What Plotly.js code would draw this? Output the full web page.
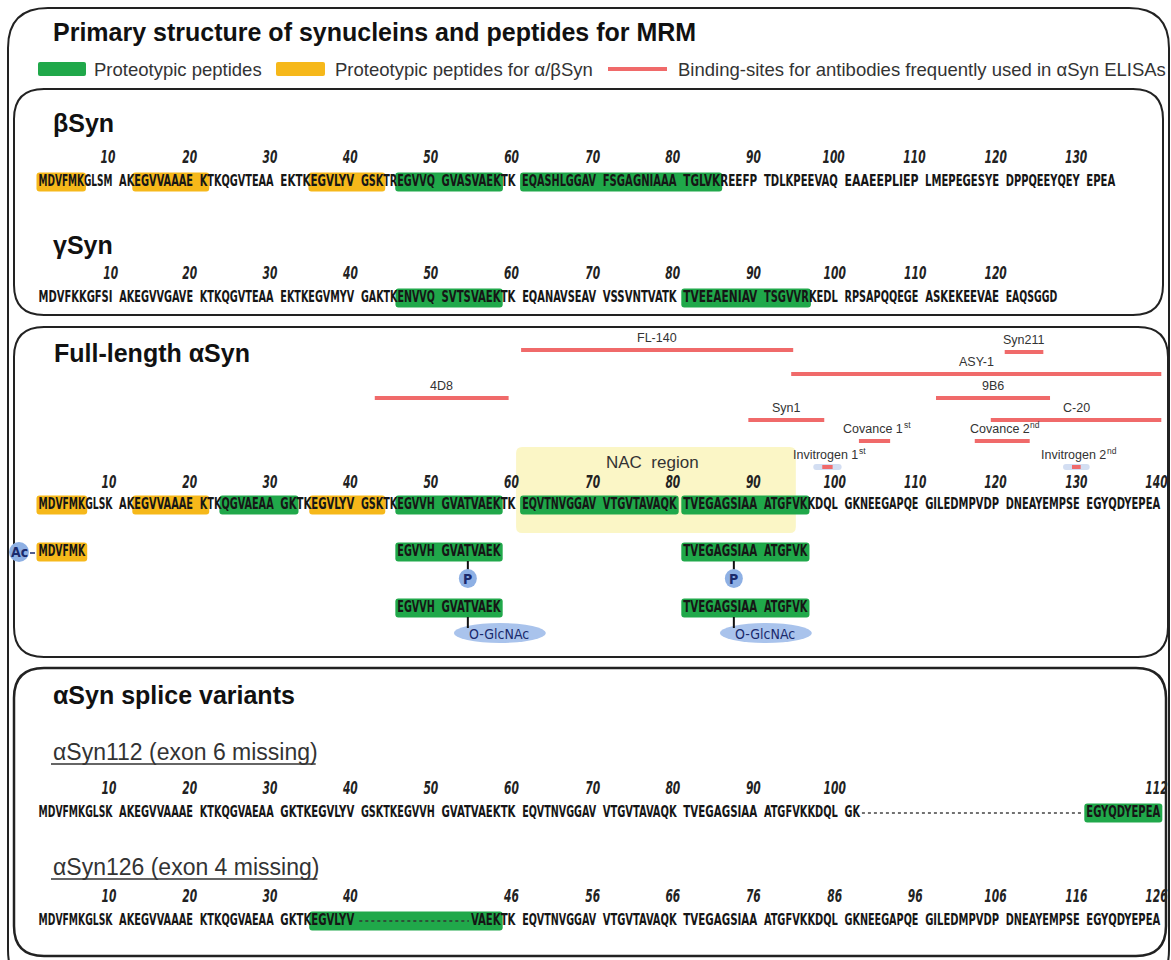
<!DOCTYPE html>
<html><head><meta charset="utf-8">
<script src="https://cdn.plot.ly/plotly-3.0.1.min.js"></script>
<style>html,body{margin:0;padding:0;background:#fff;}#chart{width:1171px;height:960px;}</style>
</head><body><div id="chart"></div>
<script>
// ================= DATA =================
const seqBeta  = "MDVFMKGLSMAKEGVVAAAEKTKQGVTEAAEKTKEGVLYVGSKTREGVVQGVASVAEKTKEQASHLGGAVFSGAGNIAAATGLVKREEFPTDLKPEEVAQEAAEEPLIEPLMEPEGESYEDPPQEEYQEYEPEA";
const seqGamma = "MDVFKKGFSIAKEGVVGAVEKTKQGVTEAAEKTKEGVMYVGAKTKENVVQSVTSVAEKTKEQANAVSEAVVSSVNTVATKTVEEAENIAVTSGVVRKEDLRPSAPQQEGEASKEKEEVAEEAQSGGD";
const seqAlpha = "MDVFMKGLSKAKEGVVAAAEKTKQGVAEAAGKTKEGVLYVGSKTKEGVVHGVATVAEKTKEQVTNVGGAVVTGVTAVAQKTVEGAGSIAAATGFVKKDQLGKNEEGAPQEGILEDMPVDPDNEAYEMPSEEGYQDYEPEA";

// peptide ranges (residue numbers, inclusive)
const betaOrange  = [[1,6],[13,21],[35,43]];
const betaGreen   = [[46,58],[61,85]];
const gammaGreen  = [[46,58],[81,96]];
const alphaOrange = [[1,6],[13,21],[35,43]];
const alphaGreen  = [[24,32],[46,58],[61,80],[81,96]];
const nacRegion   = [61,95];

// modified peptides
const acetylPeptide  = [1,6];
const modPeptides    = [[46,58],[81,96]];
const phosphoSites   = [54,87];
const glcnacSites    = [54,87];

// splice variants: deleted residue ranges
const exon6Deleted = [103,130];   // alphaSyn112
const exon4Deleted = [41,54];     // alphaSyn126
const a112Green = [[131,140]];
const a126Green = [[35,58]];

// antibody binding sites
const abNames = ["FL-140","Syn211","ASY-1","4D8","9B6","Syn1","C-20","Covance 1","Covance 2","Invitrogen 1","Invitrogen 2"];
const abOrd   = ["","","","","","","","st","nd","st","nd"];
const abStart = [61,121,95,43,113,90,120,103,118,99,130];
const abEnd   = [94,125,140,59,126,98,140,106,123,99,130];

// ================= LAYOUT HELPERS =================
const abLaneY = [350,352,374,398,398,420,420,441,441,467,467];
const X0 = 38, CW = 7.5, GAP = 5.6;
const slotL = i => X0 + (i-1)*CW + Math.floor((i-1)/10)*GAP;
const slotR = i => X0 + i*CW + Math.floor((i-1)/10)*GAP;

const ARIAL = "Liberation Sans, Arial, sans-serif";
const NARROW = "'Liberation Sans Narrow', 'DejaVu Sans Condensed', 'Arial Narrow', 'Roboto Condensed', 'Liberation Sans', Arial, sans-serif";
const GREEN = "#20a84a", ORANGE = "#f6b81a", RED = "#f06a6a", BLUE = "#8eb0e4", NAVY = "#1a2a6c";
const SEQ_SIZE = 16.5;
const SEQFONT = {family:NARROW, size:SEQ_SIZE, color:'#161616', weight:'bold'};

// text measurement, so that each block of ten residues fills its slot (condensed type)
const ctx = document.createElement('canvas').getContext('2d');
function measure(s, font){ ctx.font = font; return ctx.measureText(s).width; }
const mw = s => measure(s, `bold ${SEQ_SIZE}px ${NARROW}`);

function layoutSeq(seq){
  const L=[];
  for(let b=0;b*10<seq.length;b++){
    const s=seq.slice(b*10,b*10+10), n=s.length;
    const k=Math.min(1.1,(n*CW-1)/mw(s));
    const bc=(slotL(b*10+1)+slotR(b*10+n))/2;
    const x0=bc-k*mw(s)/2;
    for(let j=0;j<n;j++){ L[b*10+j+1]={l:x0+k*mw(s.slice(0,j)), r:x0+k*mw(s.slice(0,j+1)), k:k}; }
  }
  return L;
}
const LB=layoutSeq(seqBeta), LG=layoutSeq(seqGamma), LA=layoutSeq(seqAlpha);
const mid = (L,i)=>(L[i].l+L[i].r)/2;

const traces = [], shapes = [], ann = [], traceScale = [];

function rr(x0,y0,x1,y1,r){
  return `M${x0+r},${y0} L${x1-r},${y0} Q${x1},${y0} ${x1},${y0+r} L${x1},${y1-r} Q${x1},${y1} ${x1-r},${y1} L${x0+r},${y1} Q${x0},${y1} ${x0},${y1-r} L${x0},${y0+r} Q${x0},${y0} ${x0+r},${y0} Z`;
}
function panel(x0,y0,x1,y1,r,w){
  shapes.push({type:'path', path:rr(x0,y0,x1,y1,r), line:{color:'#222', width:w||2}, fillcolor:'rgba(0,0,0,0)', layer:'below'});
}
function hilite(L,ranges,y,color){
  ranges.forEach(([a,b])=>{
    shapes.push({type:'path', path:rr(L[a].l-2,y-9.5,L[b].r+2,y+9.5,3), fillcolor:color, line:{width:0}, layer:'below'});
  });
}
// sequence text: residues from..to grouped by block of ten, skipping a deleted range
function seqText(seq, L, from, to, y, deleted){
  const xs=[], ts=[], ks=[];
  let cur=null;
  const flush=()=>{ if(cur){ xs.push((L[cur.start].l+L[cur.end].r)/2); ts.push(cur.s); ks.push(L[cur.start].k); } };
  for(let i=from;i<=to;i++){
    if(deleted && i>=deleted[0] && i<=deleted[1]) continue;
    const b=Math.floor((i-1)/10);
    if(!cur || cur.b!==b || cur.end!==i-1){ flush(); cur={b:b,start:i,end:i,s:seq[i-1]}; }
    else { cur.end=i; cur.s+=seq[i-1]; }
  }
  flush();
  traces.push({type:'scatter', mode:'text', x:xs, y:xs.map(()=>y), text:ts, textposition:'middle center',
    textfont:SEQFONT, hoverinfo:'skip', showlegend:false, cliponaxis:false});
  traceScale.push(ks);
}
function ticks(L, len, deleted, y){
  const pos=[], lab=[];
  for(let p=10;p<=len;p+=10){
    if(deleted && p>=deleted[0] && p<=deleted[1]) continue;
    const shift = deleted && p>deleted[1] ? (deleted[1]-deleted[0]+1) : 0;
    pos.push(p); lab.push(String(p-shift));
  }
  traces.push({type:'scatter', mode:'text', x:pos.map(p=>mid(L,p)), y:pos.map(()=>y),
    text:lab, textposition:'middle center',
    textfont:{family:NARROW, size:18, color:'#222', style:'italic', weight:'bold'}, hoverinfo:'skip', showlegend:false, cliponaxis:false});
  traceScale.push(pos.map(()=>0.66));
}
function txt(x,y,s,font,opts){
  ann.push(Object.assign({x:x,y:y,xref:'x',yref:'y',text:s,showarrow:false,xanchor:'left',yanchor:'middle',
    font:font}, opts||{}));
}
const HEAD = {family:ARIAL,size:25,color:'#111',weight:'bold'};
const SUB  = {family:ARIAL,size:23,color:'#333'};
function underlined(x,y,s){
  txt(x,y,s,SUB);
  const w = measure(s, `${SUB.size}px ${ARIAL}`);
  shapes.push({type:'line', x0:x, x1:x+w, y0:y+12, y1:y+12, line:{color:'#333',width:1.3}});
}

// ================= FRAMES =================
panel(8,8,1169,990,40,2);
panel(14,89,1163,315,30,2);
panel(14,327,1168,657,30,2);
panel(14,668,1166,956,30,2.5);

// title + legend
txt(51,32,"Primary structure of synucleins and peptides for MRM",HEAD);
const LEG = {family:ARIAL,size:18.5,color:'#333'};
shapes.push({type:'path', path:rr(38,62,86,76,2), fillcolor:GREEN, line:{width:0}});
txt(92,69,"Proteotypic peptides",LEG);
shapes.push({type:'path', path:rr(276,62,325,76,2), fillcolor:ORANGE, line:{width:0}});
txt(333,69,"Proteotypic peptides for α/βSyn",LEG);
shapes.push({type:'line', x0:608, x1:667, y0:69, y1:69, line:{color:RED,width:4}});
txt(676,69,"Binding-sites for antibodies frequently used in αSyn ELISAs",LEG);

// ================= βSyn / γSyn =================
txt(51,123,"βSyn",HEAD);
hilite(LB,betaOrange,182,ORANGE); hilite(LB,betaGreen,182,GREEN);
seqText(seqBeta,LB,1,seqBeta.length,182);
ticks(LB,seqBeta.length,null,159);

txt(51,245,"γSyn",HEAD);
hilite(LG,gammaGreen,298,GREEN);
seqText(seqGamma,LG,1,seqGamma.length,298);
ticks(LG,seqGamma.length,null,275);

// ================= Full-length αSyn =================
const SEQY = 505;
txt(52,353,"Full-length αSyn",HEAD);
shapes.push({type:'path', path:rr(LA[nacRegion[0]].l-6,447,LA[nacRegion[1]].r-4,533,6), fillcolor:'#fbf6c6', line:{width:0}, layer:'below'});
txt((LA[nacRegion[0]].l+LA[nacRegion[1]].r)/2-8,462,"NAC  region",{family:ARIAL,size:17,color:'#333'},{xanchor:'center'});

const ABF = {family:ARIAL,size:12.5,color:'#333'};
abNames.forEach((n,k)=>{
  const a=LA[abStart[k]].l-1, b=LA[abEnd[k]].r+1, y=abLaneY[k];
  if(n.startsWith('Invitrogen')){
    shapes.push({type:'path', path:rr(a-9,y-3,b+9,y+3,3), fillcolor:'#d3def2', line:{width:0}});
  }
  shapes.push({type:'line', x0:a, x1:b, y0:y, y1:y, line:{color:RED,width:4}});
  const c=(a+b)/2;
  if(abOrd[k]){
    const w1=measure(n,`12.5px ${ARIAL}`), w2=measure(abOrd[k],`8.5px ${ARIAL}`);
    const left=c-(w1+w2)/2;
    txt(left, y-12, n, ABF);
    txt(left+w1+0.5, y-16, abOrd[k], {family:ARIAL,size:8.5,color:'#333'});
  } else {
    txt(c, y-12, n, ABF, {xanchor:'center'});
  }
});

hilite(LA,alphaOrange,SEQY,ORANGE); hilite(LA,alphaGreen,SEQY,GREEN);
seqText(seqAlpha,LA,1,seqAlpha.length,SEQY);
ticks(LA,seqAlpha.length,null,484);

// modifications
hilite(LA,[acetylPeptide],552,ORANGE);
seqText(seqAlpha,LA,acetylPeptide[0],acetylPeptide[1],552);
shapes.push({type:'circle', x0:9, x1:29, y0:542, y1:562, fillcolor:BLUE, line:{width:0}});
txt(19,552,"Ac",{family:NARROW,size:14,color:NAVY,weight:'bold'},{xanchor:'center'});
shapes.push({type:'line', x0:30, x1:35, y0:553, y1:553, line:{color:NAVY,width:1.5}});

[552,608].forEach(y=>{
  hilite(LA,modPeptides,y,GREEN);
  modPeptides.forEach(([a,b])=>seqText(seqAlpha,LA,a,b,y));
});
phosphoSites.forEach(s=>{
  const x=mid(LA,s);
  shapes.push({type:'line', x0:x, x1:x, y0:561, y1:570, line:{color:'#111',width:2}});
  shapes.push({type:'circle', x0:x-9, x1:x+9, y0:569, y1:588, fillcolor:BLUE, line:{width:0}});
  txt(x,579,"P",{family:NARROW,size:14,color:NAVY,weight:'bold'},{xanchor:'center'});
});
glcnacSites.forEach(s=>{
  const x=mid(LA,s);
  shapes.push({type:'circle', x0:x-14, x1:x+78, y0:623, y1:643, fillcolor:'#a9c3ec', line:{width:0}});
  shapes.push({type:'line', x0:x, x1:x, y0:617, y1:628, line:{color:'#111',width:2}});
  txt(x+31,634,"O-GlcNAc",{family:NARROW,size:14,color:NAVY},{xanchor:'center'});
});

// ================= splice variants =================
txt(51,695,"αSyn splice variants",HEAD);
underlined(51,752,"αSyn112 (exon 6 missing)");
underlined(51,867,"αSyn126 (exon 4 missing)");

hilite(LA,a112Green,813,GREEN);
seqText(seqAlpha,LA,1,seqAlpha.length,813,exon6Deleted);
shapes.push({type:'line', x0:LA[exon6Deleted[0]-1].r+2, x1:LA[exon6Deleted[1]+1].l-4, y0:813, y1:813, line:{color:'#444',width:1.3,dash:'dot'}});
ticks(LA,seqAlpha.length, exon6Deleted, 790);

hilite(LA,a126Green,921,GREEN);
seqText(seqAlpha,LA,1,seqAlpha.length,921,exon4Deleted);
shapes.push({type:'line', x0:LA[exon4Deleted[0]-1].r+5, x1:LA[exon4Deleted[1]+1].l-2, y0:921, y1:921, line:{color:'#333',width:1.3,dash:'dot'}});
ticks(LA,seqAlpha.length, exon4Deleted, 898);

// ================= PLOT =================
const layout = {
  width:1171, height:960, margin:{l:0,r:0,t:0,b:0},
  paper_bgcolor:'#fff', plot_bgcolor:'#fff', showlegend:false,
  xaxis:{range:[0,1171], visible:false, fixedrange:true},
  yaxis:{range:[960,0], visible:false, fixedrange:true},
  shapes:shapes, annotations:ann
};
function condense(gd){
  const groups = gd.querySelectorAll('.scatterlayer .trace');
  groups.forEach((g,idx)=>{
    const ks = traceScale[idx];
    if(!ks) return;
    g.querySelectorAll('.textpoint text').forEach((el,j)=>{
      const k = ks[j]; if(!k) return;
      const x=parseFloat(el.getAttribute('x'));
      el.setAttribute('transform',`translate(${x},0) scale(${k},1) translate(${-x},0)`);
    });
  });
}
Plotly.newPlot('chart', traces, layout, {staticPlot:true, displayModeBar:false}).then(gd=>{
  condense(gd);
  gd.on && gd.on('plotly_afterplot',()=>condense(gd));
});
</script>
</body></html>
